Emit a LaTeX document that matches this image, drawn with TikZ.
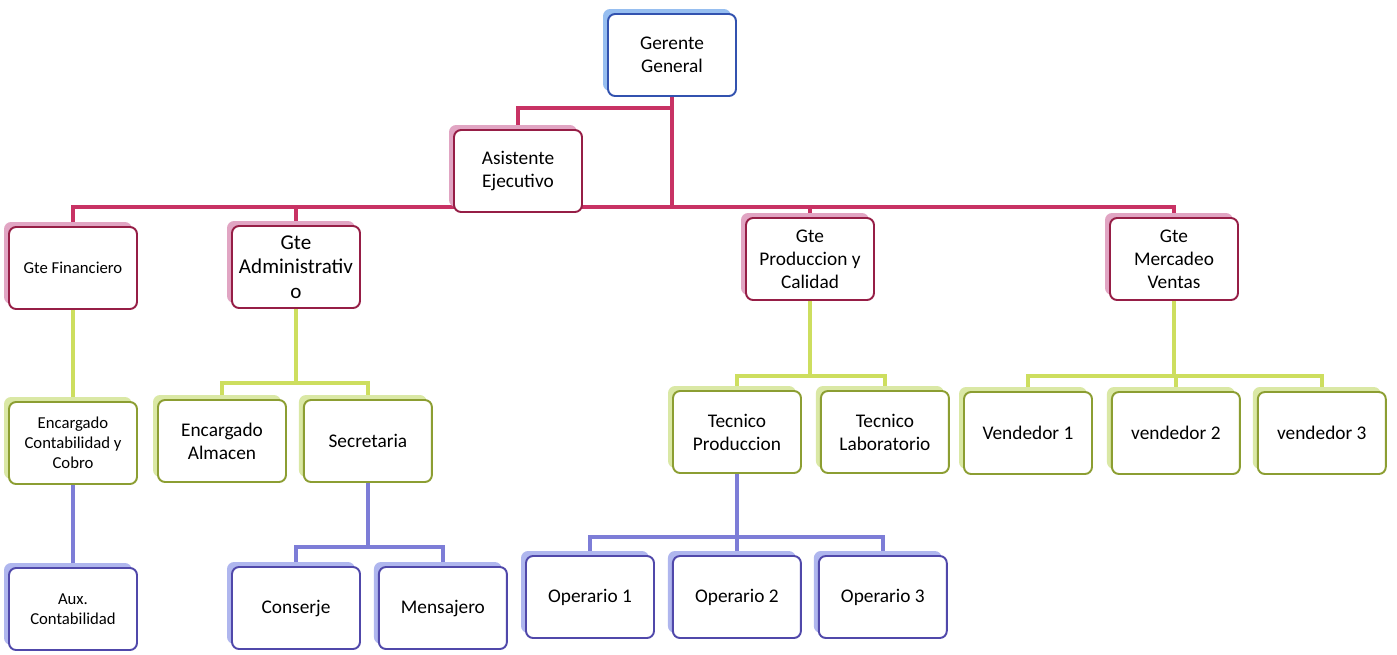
\documentclass[tikz,border=0pt]{standalone}
\usepackage{fontspec}
\setmainfont{Carlito}
\usetikzlibrary{positioning,shadows,backgrounds}

\definecolor{cRed}{RGB}{200,50,100}
\definecolor{cRedDark}{RGB}{150,30,70}
\definecolor{cRedShadow}{RGB}{225,165,195}
\definecolor{cGreen}{RGB}{205,222,95}
\definecolor{cGreenDark}{RGB}{140,158,50}
\definecolor{cGreenShadow}{RGB}{218,232,165}
\definecolor{cBlue}{RGB}{125,125,215}
\definecolor{cBlueDark}{RGB}{80,72,170}
\definecolor{cBlueShadow}{RGB}{175,182,238}
\definecolor{cTop}{RGB}{50,82,175}
\definecolor{cTopShadow}{RGB}{150,190,240}

\begin{document}
\begin{tikzpicture}[x=0.02cm, y=-0.02cm,
    orgbox/.style = {shape=rectangle, rounded corners=4pt,
    draw, line width=1.1pt, fill=white, align=center, inner sep=2pt,
    minimum width=2.56cm, minimum height=1.64cm,
    font=\fontsize{11}{13}\selectfont},
    topbox/.style = {orgbox, draw=cTop,
    general shadow={fill=cTopShadow, shadow xshift=-0.1cm, shadow yshift=0.1cm}},
    redbox/.style = {orgbox, draw=cRedDark,
    general shadow={fill=cRedShadow, shadow xshift=-0.1cm, shadow yshift=0.1cm}},
    greenbox/.style = {orgbox, draw=cGreenDark,
    general shadow={fill=cGreenShadow, shadow xshift=-0.1cm, shadow yshift=0.1cm}},
    bluebox/.style = {orgbox, draw=cBlueDark,
    general shadow={fill=cBlueShadow, shadow xshift=-0.1cm, shadow yshift=0.1cm}},
    small/.style = {font=\fontsize{9.5}{11.5}\selectfont},
    line/.style = {draw, line width=2.5pt},
    redline/.style = {line, draw=cRed},
    greenline/.style = {line, draw=cGreen},
    blueline/.style = {line, draw=cBlue}]

    \useasboundingbox (0,0) rectangle (1397,654);

    % top levels
    \node[topbox] (gg) at (672,55) {Gerente\\General};
    \node[redbox] (asis) at (518,171) {Asistente\\Ejecutivo};

    \node[redbox, small] (fin) at (73,268) {Gte Financiero};
    \node[redbox, font=\fontsize{12}{14}\selectfont] (adm) at (296,267) {Gte\\Administrativ\\o};
    \node[redbox] (prod) at (810,259) {Gte\\Produccion y\\Calidad};
    \node[redbox] (merc) at (1174,259) {Gte\\Mercadeo\\Ventas};

    % second level
    \node[greenbox, small] (encc) at (73,443) {Encargado\\Contabilidad y\\Cobro};
    \node[greenbox] (alm) at (222,441) {Encargado\\Almacen};
    \node[greenbox, right=0.32cm of alm] (sec) {Secretaria};
    \node[greenbox] (tecp) at (737,432) {Tecnico\\Produccion};
    \node[greenbox, right=0.36cm of tecp] (tecl) {Tecnico\\Laboratorio};
    \node[greenbox] (ven1) at (1028,433) {Vendedor 1};
    \node[greenbox, right=0.36cm of ven1] (ven2) {vendedor 2};
    \node[greenbox, right=0.32cm of ven2] (ven3) {vendedor 3};

    % third level
    \node[bluebox, small] (aux) at (73,609) {Aux.\\Contabilidad};
    \node[bluebox] (cons) at (296,608) {Conserje};
    \node[bluebox, right=0.34cm of cons] (mens) {Mensajero};
    \node[bluebox] (op1) at (590,597) {Operario 1};
    \node[bluebox, right=0.34cm of op1] (op2) {Operario 2};
    \node[bluebox, right=0.32cm of op2] (op3) {Operario 3};

    \begin{scope}[on background layer]
    \coordinate (abus) at (0,108);
    \coordinate (rbus) at (0,207);
    \coordinate (gbus1) at (0,383);
    \coordinate (gbus2) at (0,376);
    \coordinate (bbus1) at (0,547);
    \coordinate (bbus2) at (0,537);

    \draw[redline] (gg.south) -- (gg.south |- rbus);
    \draw[redline] (gg.south |- abus) -| (asis.north);
    \draw[redline] (fin.north) |- (rbus -| merc.north) -- (merc.north);
    \draw[redline] (adm.north) -- (adm.north |- rbus);
    \draw[redline] (prod.north) -- (prod.north |- rbus);

    \draw[greenline] (fin.south) -- (encc.north);
    \draw[greenline] (adm.south) -- (adm.south |- gbus1);
    \draw[greenline] (alm.north) |- (gbus1 -| sec.north) -- (sec.north);
    \draw[greenline] (prod.south) -- (prod.south |- gbus2);
    \draw[greenline] (tecp.north) |- (gbus2 -| tecl.north) -- (tecl.north);
    \draw[greenline] (merc.south) -- (merc.south |- gbus2);
    \draw[greenline] (ven1.north) |- (gbus2 -| ven3.north) -- (ven3.north);
    \draw[greenline] (ven2.north) -- (ven2.north |- gbus2);

    \draw[blueline] (encc.south) -- (aux.north);
    \draw[blueline] (sec.south) -- (sec.south |- bbus1);
    \draw[blueline] (cons.north) |- (bbus1 -| mens.north) -- (mens.north);
    \draw[blueline] (tecp.south) -- (tecp.south |- bbus2);
    \draw[blueline] (op1.north) |- (bbus2 -| op3.north) -- (op3.north);
    \draw[blueline] (op2.north) -- (op2.north |- bbus2);
    \end{scope}
\end{tikzpicture}
\end{document}
